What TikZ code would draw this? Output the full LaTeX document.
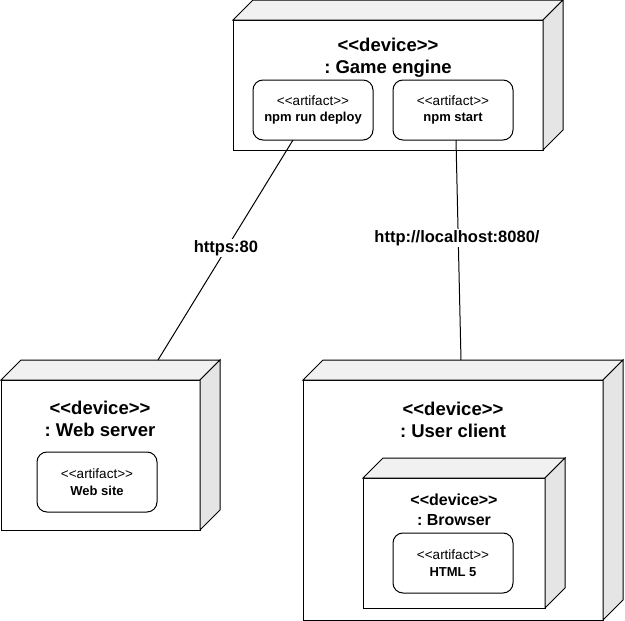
\documentclass[tikz,border=0pt]{standalone}
\usepackage{fontspec}
\setmainfont{Liberation Sans}
\usetikzlibrary{calc}
\frenchspacing
\definecolor{topgray}{HTML}{F1F1F1}
\definecolor{sidegray}{HTML}{E5E5E5}
\tikzset{
  devface/.style={draw, fill=white, line width=1pt, inner sep=0pt, outer sep=0pt},
  artbox/.style={draw, fill=white, rounded corners=10pt, line width=1pt, minimum width=120pt, minimum height=60pt, align=center, inner sep=0pt, outer sep=0pt, font=\fontsize{13}{16.5}\selectfont},
  bigtitle/.style={align=center, inner sep=0pt, font=\fontsize{18.5}{22.5}\selectfont\bfseries},
  smalltitle/.style={align=center, inner sep=0pt, font=\fontsize{16}{20}\selectfont\bfseries},
  conn/.style={line width=1pt},
  connlabel/.style={fill=white, inner sep=1pt, font=\fontsize{16.5}{20}\selectfont\bfseries},
  facetop/.style={line width=1pt, fill=topgray, line join=miter},
  faceside/.style={line width=1pt, fill=sidegray, line join=miter},
}
\newcommand{\artlabel}[1]{{\fontsize{13.5}{16.5}\selectfont <{}<artifact>{}>}\\{\fontsize{13}{16.5}\selectfont\bfseries #1}}
\newcommand{\devthreed}[1]{%
  \draw[facetop] (#1.north west) -- ++(20pt,20pt) -- ($(#1.north east)+(20pt,20pt)$) -- (#1.north east) -- cycle;
  \draw[faceside] (#1.north east) -- ++(20pt,20pt) -- ($(#1.south east)+(20pt,20pt)$) -- (#1.south east) -- cycle;
}
\newcommand{\devst}{<{}<device>{}>}
\begin{document}
\begin{tikzpicture}[x=1pt, y=-1pt]
\useasboundingbox (0,0) rectangle (625,621);

% Game engine
\node[devface, minimum width=310pt, minimum height=130pt] (ge) at (388,85) {};
\devthreed{ge}
\node[bigtitle] (ge-t) at (388,58) {\devst\\: Game engine};
\node[artbox] (a1) at (313,110) {\artlabel{npm run deploy}};
\node[artbox] (a2) at (453,110) {\artlabel{npm start}};

% Web server
\node[devface, minimum width=199pt, minimum height=150pt] (ws) at (100.5,455) {};
\devthreed{ws}
\node[bigtitle] (ws-t) at (100,419) {\devst\\: Web server};
\node[artbox] (site) at (97,482) {\artlabel{Web site}};

% User client
\node[devface, minimum width=300pt, minimum height=240pt] (uc) at (453,500) {};
\devthreed{uc}
\node[bigtitle] (uc-t) at (453,420) {\devst\\: User client};

% Browser
\node[devface, minimum width=182pt, minimum height=130pt] (br) at (454,543) {};
\devthreed{br}
\node[smalltitle] (br-t) at (454,509.5) {\devst\\: Browser};
\node[artbox] (html) at (453,563) {\artlabel{HTML 5}};

% connectors
\coordinate (ws-in) at (158,360);
\coordinate (uc-in) at (461,360);
\draw[conn] ([xshift=-20pt]a1.south) -- (ws-in);
\draw[conn] ([xshift=3pt]a2.south) -- (uc-in);
\node[connlabel] (l1) at (226,248) {https:80};
\node[connlabel] (l2) at (457,238) {http://localhost:8080/};
\end{tikzpicture}
\end{document}
